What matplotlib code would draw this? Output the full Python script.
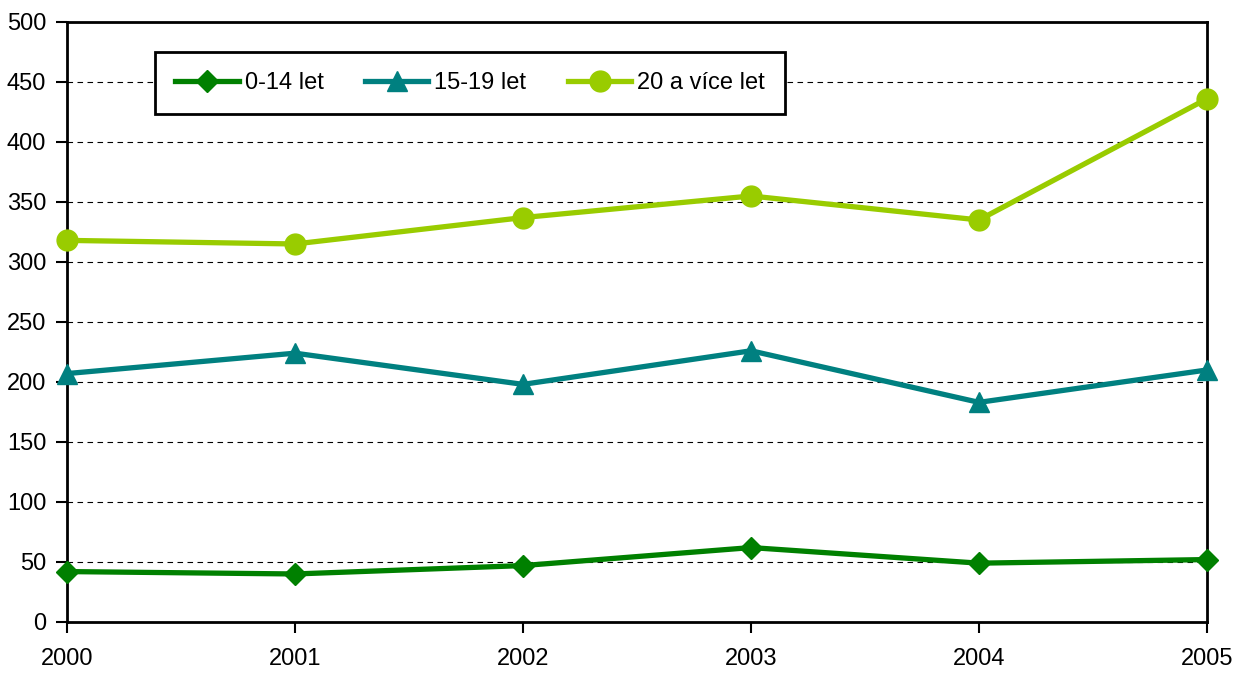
import matplotlib
matplotlib.use("Agg")
import matplotlib.pyplot as plt

plt.rcParams["font.family"] = ["Liberation Sans Narrow", "Liberation Sans", "DejaVu Sans"]

# ── data ──────────────────────────────────────────────────────────────────────
years = [2000, 2001, 2002, 2003, 2004, 2005]
age_0_14 = [42, 40, 47, 62, 49, 52]
age_15_19 = [207, 224, 198, 226, 183, 210]
age_20_plus = [318, 315, 337, 355, 335, 436]

labels = ["0-14 let", "15-19 let", "20 a více let"]

# ── figure ────────────────────────────────────────────────────────────────────
fig = plt.figure(figsize=(12.35, 6.74), dpi=100)
ax = fig.add_axes([0.0543, 0.0772, 0.9230, 0.8902])

ax.plot(years, age_0_14, color="#008000", lw=3.8, marker="D", ms=11,
        label=labels[0], zorder=4, clip_on=False)
ax.plot(years, age_15_19, color="#008080", lw=3.8, marker="^", ms=14,
        label=labels[1], zorder=4, clip_on=False)
ax.plot(years, age_20_plus, color="#99CC00", lw=3.8, marker="o", ms=15,
        label=labels[2], zorder=4, clip_on=False)

ax.set_xlim(2000, 2005)
ax.set_ylim(0, 500)
ax.set_xticks(years)
ax.set_yticks(range(0, 501, 50))
ax.yaxis.grid(True, color="black", ls=(0, (5, 4)), lw=0.8)
ax.set_axisbelow(True)

for s in ax.spines.values():
    s.set_linewidth(2)
ax.tick_params(axis="both", direction="out", length=8, width=1.5,
               labelsize=17)
ax.tick_params(axis="x", pad=11)
ax.tick_params(axis="y", pad=7)

leg = ax.legend(loc="upper left", bbox_to_anchor=(0.077, 0.95), ncol=3,
                fontsize=17, frameon=True, fancybox=False, framealpha=1,
                handlelength=2.7, columnspacing=1.75, handletextpad=0.25,
                borderpad=0.85, borderaxespad=0)
leg.get_frame().set_edgecolor("black")
leg.get_frame().set_linewidth(2)

fig.savefig("out.png", dpi=100)
